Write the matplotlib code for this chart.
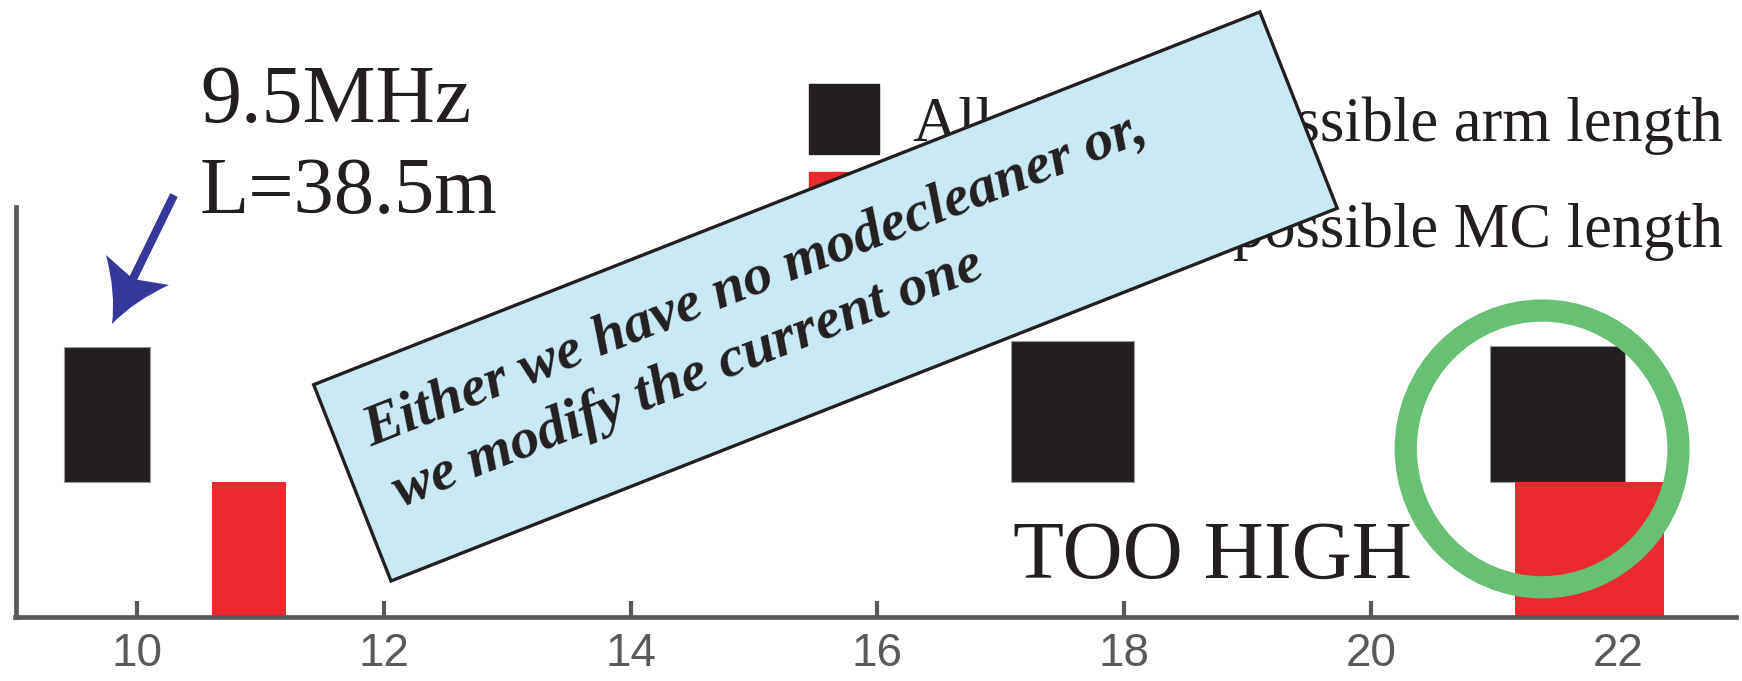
import matplotlib
matplotlib.use("Agg")
import matplotlib.pyplot as plt
import matplotlib.transforms as mtransforms
from matplotlib.patches import Rectangle, Ellipse, PathPatch
from matplotlib.path import Path
from matplotlib.lines import Line2D

# allowed arm lengths (black) and MC lengths (red), x in axis units, y normalised
arm_left = [9.41, 17.08, 20.96]
arm_right = [10.105, 18.08, 22.06]
arm_bottom = [0.329, 0.329, 0.329]
arm_top = [0.659, 0.673, 0.662]

mc_left = [10.61, 21.17]
mc_right = [11.21, 22.37]
mc_bottom = [0.0, 0.0]
mc_top = [0.329, 0.329]

xticks = [10, 12, 14, 16, 18, 20, 22]
legend_prefix = ["All allowed", "All allowed"]
legend_suffix = ["possible arm length", "possible MC length"]
note_lines = ["Either we have no modecleaner or,", "we modify the current one"]

BLACK = "#231F20"
RED = "#EA2A2F"
GREY = "#58595B"
BLUE = "#34399A"
W, H = 1742, 681

fig = plt.figure(figsize=(W / 100, H / 100), dpi=100)
fig.patch.set_facecolor("white")

# image pixels (y down) -> display pixels
img = mtransforms.Affine2D().scale(1, -1).translate(0, H)


def fpos(x, y):
    return x / W, 1 - y / H


ax = fig.add_axes([15.5 / W, 64 / H, (1736 - 15.5) / W, 410 / H])
ax.set_xlim(9.015, 22.957)
ax.set_ylim(0, 1)

ax.bar(arm_left, [t - b for t, b in zip(arm_top, arm_bottom)],
       width=[r - l for r, l in zip(arm_right, arm_left)], bottom=arm_bottom,
       align="edge", color=BLACK, edgecolor="#9a9a9a", linewidth=0.8, zorder=2)
ax.bar(mc_left, [t - b for t, b in zip(mc_top, mc_bottom)],
       width=[r - l for r, l in zip(mc_right, mc_left)], bottom=mc_bottom,
       align="edge", color=RED, linewidth=0, zorder=2)

# green circle round the 22 MHz pair
ax.add_patch(Ellipse((21.386, 0.41), 2.21, 0.675, fill=False,
                     edgecolor="#67C073", linewidth=16, zorder=4, clip_on=False))

for side in ["top", "right"]:
    ax.spines[side].set_visible(False)
for side in ["left", "bottom"]:
    ax.spines[side].set_color(GREY)
    ax.spines[side].set_linewidth(3.4)
ax.set_yticks([])
ax.set_xticks(xticks)
ax.set_xticklabels([str(t) for t in xticks])
ax.tick_params(axis="x", direction="in", length=11.5, width=3, color=GREY,
               labelcolor=GREY, labelsize=33, pad=11)
for lab in ax.get_xticklabels():
    lab.set_family("Liberation Sans")

# legend squares + labels (partly hidden by the note box)
fig.add_artist(Rectangle(fpos(809, 154), 70 / W, 70 / H, color=BLACK, zorder=1))
fig.add_artist(Rectangle(fpos(809, 242), 70 / W, 70 / H, color=RED, zorder=1))
for i, base in enumerate([141, 247]):
    fig.text(*fpos(913, base), legend_prefix[i], fontsize=45, family="Liberation Serif",
             color=BLACK, ha="left", va="baseline", zorder=1)
    fig.text(*fpos(1723, base), legend_suffix[i], fontsize=45, family="Liberation Serif",
             color=BLACK, ha="right", va="baseline", zorder=1)

# 9.5MHz annotation with arrow
fig.text(*fpos(200, 122), "9.5MHz", fontsize=59, family="Liberation Serif",
         color=BLACK, ha="left", va="baseline")
fig.text(*fpos(200, 213), "L=38.5m", fontsize=58, family="Liberation Serif",
         color=BLACK, ha="left", va="baseline")
fig.add_artist(Line2D([174, 130], [195, 285], transform=img, color=BLUE,
                      linewidth=6, solid_capstyle="butt", zorder=2))
head = Path([(112, 324), (116, 293), (106, 255), (133, 279), (169, 285),
             (134, 301), (112, 324), (112, 324)],
            [Path.MOVETO, Path.CURVE3, Path.CURVE3, Path.LINETO, Path.LINETO,
             Path.CURVE3, Path.CURVE3, Path.CLOSEPOLY])
fig.add_artist(PathPatch(head, transform=img, facecolor=BLUE, edgecolor="none", zorder=2))

fig.text(*fpos(1013, 578), "TOO HIGH", fontsize=60, family="Liberation Serif",
         color=BLACK, ha="left", va="baseline", zorder=1)

# rotated note box
angle = 21.5
box_tr = mtransforms.Affine2D().rotate_deg(angle).translate(391, 100)
fig.add_artist(Rectangle((0, 0), 1017, 211, transform=box_tr, facecolor="#C9E9F4",
                         edgecolor=BLACK, linewidth=2.4, zorder=5))
for (u, v), line in zip([(31, 132), (36, 65.5)], note_lines):
    x, y = box_tr.transform((u, v))
    fig.text(x / W, y / H, line, fontsize=42, family="Liberation Serif",
             weight="bold", style="italic", color=BLACK, rotation=angle,
             rotation_mode="anchor", ha="left", va="baseline", zorder=6)

fig.savefig("out.png", dpi=100, facecolor="white")
